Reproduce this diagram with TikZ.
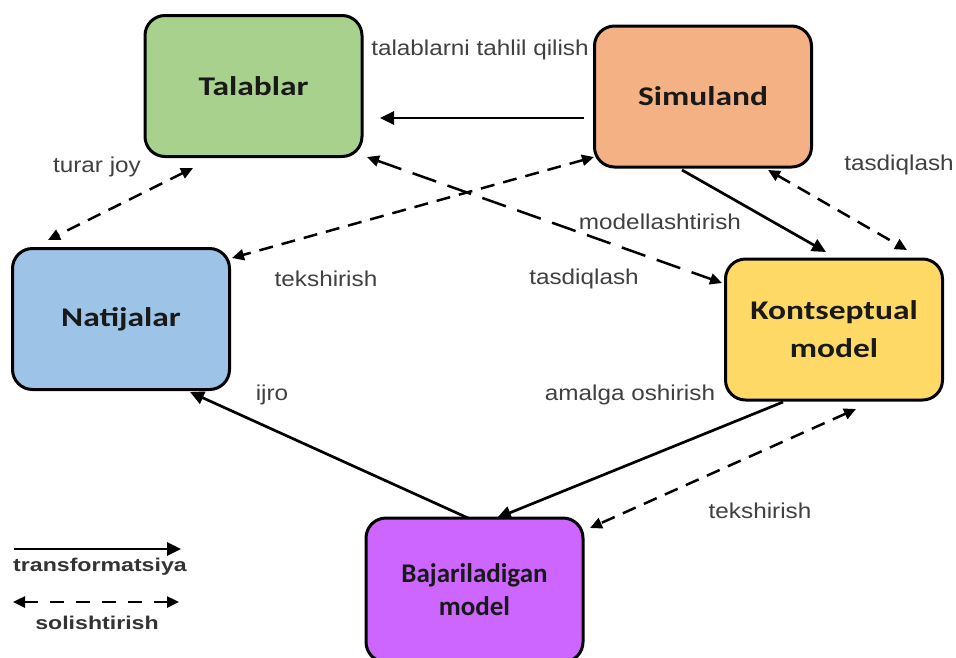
\documentclass[tikz,border=0pt]{standalone}
\usepackage{fontspec}
\usetikzlibrary{arrows.meta,calc}
\newfontfamily\boxfont[FakeStretch=1.24]{Carlito}
\newfontfamily\boxfontn{Carlito}
\newfontfamily\labfont[FakeStretch=1.13]{Liberation Sans}
\newfontfamily\legfont[FakeStretch=1.25]{Liberation Sans}
\definecolor{cgreen}{HTML}{A9D18E}
\definecolor{corange}{HTML}{F4B183}
\definecolor{cblue}{HTML}{9DC3E6}
\definecolor{cyellow}{HTML}{FFD966}
\definecolor{cviolet}{HTML}{CC66FF}
\definecolor{labgray}{HTML}{404040}
\tikzset{
  box/.style={draw=black, line width=3pt, rounded corners=20pt, minimum width=217pt, minimum height=141pt, align=center, text=black!90, font=\boxfont\bfseries\fontsize{27pt}{38pt}\selectfont},
  lab/.style={text=labgray, font=\labfont\fontsize{21.5pt}{24pt}\selectfont, inner sep=0pt},
  leg/.style={text=black!80, font=\legfont\bfseries\fontsize{18.5pt}{22pt}\selectfont, inner sep=0pt},
  tr/.style={line width=2.7pt, -{Triangle[length=14pt,width=13pt]}},
  cmp/.style={line width=2.5pt, dash pattern=on 14pt off 9pt, {Triangle[length=12pt,width=11pt]}-{Triangle[length=12pt,width=11pt]}},
  cmplong/.style={line width=2.5pt, dash pattern=on 25pt off 12pt, {Triangle[length=12pt,width=11pt]}-{Triangle[length=12pt,width=11pt]}}
}
\begin{document}
\begin{tikzpicture}[x=1pt,y=-1pt]
\useasboundingbox[fill=white] (0,0) rectangle (956,657);
\node[box, fill=cgreen] (tal) at (253.5,86) {Talablar};
\node[box, fill=corange] (sim) at (703,96.5) {Simuland};
\node[box, fill=cblue] (nat) at (121,319) {Natijalar};
\node[box, fill=cyellow] (kon) at (834,329.5) {Kontseptual\\model};
\node[box, fill=cviolet, minimum height=144pt, font=\boxfontn\bfseries\fontsize{27pt}{33pt}\selectfont] (baj) at (474.5,590) {Bajariladigan\\model};

\draw[tr] ($(sim.center)+(-119,21.5)$) -- ($(tal.center)+(126.5,32)$);
\draw[cmp] ($(tal.center)+(-60.5,82)$) -- ($(nat.center)+(-73,-79)$);
\draw[cmp] ($(sim.center)+(-109,60.5)$) -- ($(nat.center)+(111,-61)$);
\draw[cmplong] ($(tal.center)+(113.5,71)$) -- ($(kon.center)+(-112,-46.5)$);
\draw[tr] ($(sim.center)+(-21,73.5)$) -- ($(kon.center)+(-8,-77.5)$);
\draw[cmp] ($(sim.center)+(65,73.5)$) -- ($(kon.center)+(73,-79.5)$);
\draw[tr] ($(kon.center)+(-51,72.5)$) -- ($(baj.center)+(22.5,-72)$);
\draw[cmp] ($(kon.center)+(22,79.5)$) -- ($(baj.center)+(115.5,-62)$);
\draw[tr] ($(baj.center)+(-6.5,-72)$) -- ($(nat.center)+(69,73)$);

\node[lab] (l1) at (480,50) {talablarni tahlil qilish};
\node[lab] (l2) at (97,167) {turar joy};
\node[lab] (l3) at (326,279) {tekshirish};
\node[lab] (l4) at (660,222) {modellashtirish};
\node[lab] (l5) at (584,279) {tasdiqlash};
\node[lab] (l6) at (899,165) {tasdiqlash};
\node[lab] (l7) at (630,395) {amalga oshirish};
\node[lab] (l8) at (272,395) {ijro};
\node[lab] (l9) at (760,511) {tekshirish};

\coordinate (a1) at (14,549);
\coordinate (a2) at (181,549);
\coordinate (b1) at (13,602);
\coordinate (b2) at (179,602);
\draw[tr] (a1) -- (a2);
\draw[line width=2.5pt, dash pattern=on 14pt off 12pt, {Triangle[length=12pt,width=11pt]}-{Triangle[length=12pt,width=11pt]}] (b1) -- (b2);
\node[leg] (t1) at (100,567) {transformatsiya};
\node[leg] (t2) at (97,623) {solishtirish};
\end{tikzpicture}
\end{document}
